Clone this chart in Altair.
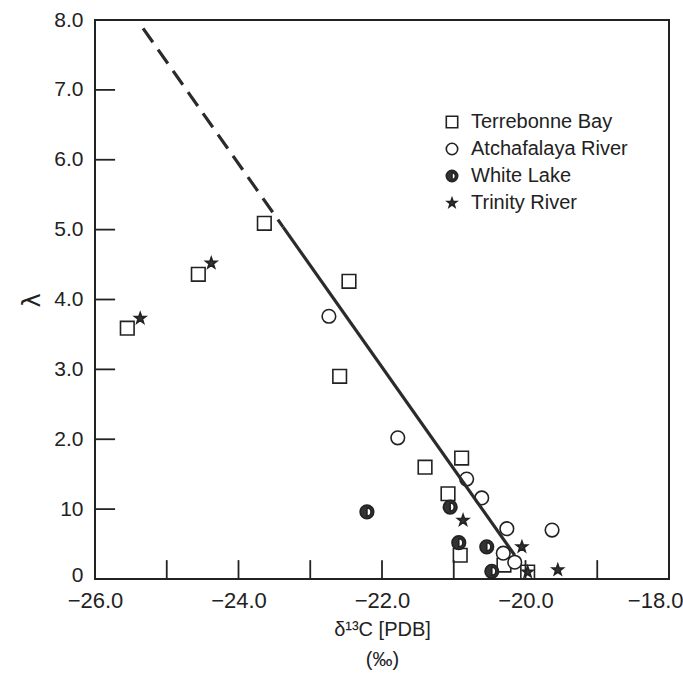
import altair as alt
import pandas as pd

# ---------------- data ----------------
series_names = ["Terrebonne Bay", "Atchafalaya River", "White Lake", "Trinity River"]

tb_x = [-25.55, -24.56, -23.64, -22.46, -22.59, -21.40, -21.08, -20.89, -20.91, -20.30, -19.97]
tb_y = [3.59, 4.36, 5.09, 4.26, 2.90, 1.60, 1.22, 1.73, 0.34, 0.20, 0.10]

ar_x = [-22.74, -21.78, -20.82, -20.61, -20.26, -19.63, -20.31, -20.15]
ar_y = [3.76, 2.02, 1.43, 1.16, 0.72, 0.70, 0.37, 0.24]

wl_x = [-22.21, -21.05, -20.93, -20.54, -20.47]
wl_y = [0.96, 1.03, 0.52, 0.46, 0.11]

tr_x = [-25.37, -24.38, -20.87, -20.05, -19.97, -19.55]
tr_y = [3.73, 4.52, 0.84, 0.46, 0.10, 0.13]

# regression line (dashed extrapolation + solid fit)
dash_x = [-25.33, -23.38]
dash_y = [7.88, 5.04]
solid_x = [-23.38, -20.15]
solid_y = [5.04, 0.34]

# axes
x_label_values = [-26, -24, -22, -20, -18]
x_tick_values = [-25, -24, -23, -22, -21, -20, -19]
y_label_values = [0, 1, 2, 3, 4, 5, 6, 7, 8]
y_label_texts = ["0", "10", "2.0", "3.0", "4.0", "5.0", "6.0", "7.0", "8.0"]
y_tick_values = [1, 2, 3, 4, 5, 6, 7]
tick_len_x = 0.27   # in y units
tick_len_y = 0.28   # in x units

# ---------------- tables ----------------
rows = []
for name, xs, ys in zip(series_names, [tb_x, ar_x, wl_x, tr_x], [tb_y, ar_y, wl_y, tr_y]):
    for a, b in zip(xs, ys):
        rows.append({"x": a, "y": b, "series": name})
pts = pd.DataFrame(rows)

dash_df = pd.DataFrame({"x": dash_x, "y": dash_y})
solid_df = pd.DataFrame({"x": solid_x, "y": solid_y})
xt_df = pd.DataFrame({"x": x_tick_values, "y": [0] * len(x_tick_values),
                      "y1": [tick_len_x] * len(x_tick_values)})
yt_df = pd.DataFrame({"y": y_tick_values, "x": [-26] * len(y_tick_values),
                      "x1": [-26 + tick_len_y] * len(y_tick_values)})

FONT = "Liberation Sans"
INK = "#222222"

xscale = alt.Scale(domain=[-26, -18], nice=False, zero=False)
yscale = alt.Scale(domain=[0, 8], nice=False, zero=False)

y_label_expr = " : ".join(
    [f"datum.value === {v} ? '{t}'" for v, t in zip(y_label_values, y_label_texts)]
) + " : ''"

x_axis = alt.Axis(
    values=x_label_values, format=".1f", ticks=False, domain=False, grid=False,
    labelFont=FONT, labelFontSize=22, labelColor=INK, labelPadding=11,
    labelAlign={"condition": {"test": "datum.value === -18", "value": "right"}, "value": "center"},
    labelOffset={"condition": {"test": "datum.value === -18", "value": 14}, "value": 0},
    titleFont=FONT, titleFontSize=20, titleFontWeight="normal",
    titleColor=INK, titleY=40, titleBaseline="top", titleLineHeight=30,
)
y_axis = alt.Axis(
    values=y_label_values, labelExpr=y_label_expr, ticks=False, domain=False, grid=False,
    labelFont=FONT, labelFontSize=21, labelColor=INK, labelPadding=12,
    labelOffset={"condition": {"test": "datum.value === 0", "value": -4}, "value": 0},
    titleFont="DejaVu Sans", titleFontSize=24, titleFontWeight="normal",
    titleColor=INK, titleX=-63, titleY=280, titleAlign="center", titleBaseline="middle",
)

square_shape = "square"
circle_shape = "circle"
half_shape = "M1,0A1,1,0,1,1,-1,0A1,1,0,1,1,1,0ZM0,-0.6L0,0.6A0.6,0.6,0,0,0,0,-0.6Z"
star_shape = ("M0,-0.85L0.2,-0.275L0.808,-0.263L0.323,0.105L0.5,0.688L0,0.34"
              "L-0.5,0.688L-0.323,0.105L-0.808,-0.263L-0.2,-0.275Z")

legend = alt.Legend(
    orient="none", legendX=347, legendY=92, title=None, padding=0,
    labelFont=FONT, labelFontSize=20, labelColor=INK, labelOffset=9,
    symbolSize=130, rowPadding=7, symbolStrokeColor=INK, symbolStrokeWidth=1.6,
)

X = alt.X("x:Q", scale=xscale, axis=x_axis, title=["δ¹³C [PDB]", "(‰)"])
Y = alt.Y("y:Q", scale=yscale, axis=y_axis, title="λ")

points = alt.Chart(pts).mark_point(
    filled=True, strokeWidth=1.6, opacity=1, size=185
).encode(
    x=X,
    y=Y,
    shape=alt.Shape("series:N", sort=series_names, legend=legend,
                    scale=alt.Scale(domain=series_names,
                                    range=[square_shape, circle_shape, half_shape, star_shape])),
    fill=alt.Fill("series:N", sort=series_names, legend=legend,
                  scale=alt.Scale(domain=series_names,
                                  range=["#ffffff", "#ffffff", "#333333", "#333333"])),
    stroke=alt.Stroke("series:N", sort=series_names, legend=legend,
                      scale=alt.Scale(domain=series_names,
                                      range=[INK, INK, INK, INK])),
    order=alt.Order("idx:Q"),
).transform_window(idx="row_number()")

dash_line = alt.Chart(dash_df).mark_line(
    color="#2b2b2b", strokeWidth=3.2, strokeDash=[17, 9]
).encode(x=X, y=Y)

solid_line = alt.Chart(solid_df).mark_line(
    color="#2b2b2b", strokeWidth=3.2
).encode(x=X, y=Y)

x_ticks = alt.Chart(xt_df).mark_rule(color=INK, strokeWidth=1.8).encode(
    x=X, y=Y, y2="y1:Q",
)
y_ticks = alt.Chart(yt_df).mark_rule(color=INK, strokeWidth=1.8).encode(
    y=Y, x=X, x2="x1:Q",
)

chart = alt.layer(points, dash_line, solid_line, x_ticks, y_ticks).properties(
    width=574, height=559,
    autosize=alt.AutoSizeParams(type="none"),
    padding={"left": 95, "top": 20, "right": 14, "bottom": 105},
    background="white",
).configure_view(stroke=INK, strokeWidth=2)

chart.save("out.html", embed_options={"renderer": "svg", "actions": False})
